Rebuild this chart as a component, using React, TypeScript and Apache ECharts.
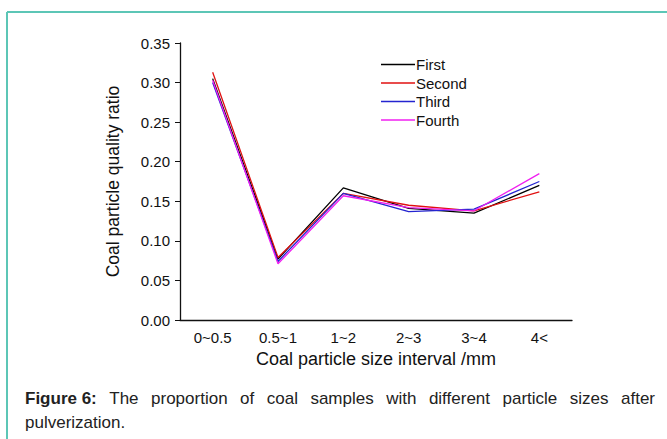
import React, { useEffect, useRef } from "react";
import * as echarts from "echarts";

const categories = ["0~0.5", "0.5~1", "1~2", "2~3", "3~4", "4<"];
const seriesNames = ["First", "Second", "Third", "Fourth"];
const first = [0.305, 0.077, 0.167, 0.141, 0.135, 0.170];
const second = [0.313, 0.079, 0.160, 0.145, 0.138, 0.162];
const third = [0.300, 0.074, 0.160, 0.137, 0.140, 0.175];
const fourth = [0.303, 0.071, 0.157, 0.142, 0.138, 0.185];
const seriesColors = ["#000000", "#e01010", "#2424d0", "#f020f0"];
const yTicks = [0, 0.05, 0.1, 0.15, 0.2, 0.25, 0.3, 0.35];

const captionBold = "Figure 6:";
const captionLine1 = "The proportion of coal samples with different particle sizes after";
const captionLine2 = "pulverization.";

export default function App() {
  const ref = useRef<HTMLDivElement>(null);
  useEffect(() => {
    if (!ref.current) return;
    const chart = echarts.init(ref.current, null, { renderer: "svg" });
    const data = [first, second, third, fourth];
    const font = "Liberation Sans, Arial, sans-serif";
    const capSize = 17;

    // justify caption line 1 between x=25 and x=655
    const ctx = document.createElement("canvas").getContext("2d")!;
    const words = [captionBold, ...captionLine1.split(" ")];
    const widths = words.map((w, i) => {
      ctx.font = (i === 0 ? "bold " : "") + capSize + "px Liberation Sans, Arial, sans-serif";
      return ctx.measureText(w).width;
    });
    const total = widths.reduce((a, b) => a + b, 0);
    const gap = (655 - 25 - total) / (words.length - 1);
    const wordGraphics: any[] = [];
    let x = 25;
    words.forEach((w, i) => {
      wordGraphics.push({
        type: "text",
        x,
        y: 398,
        style: {
          text: w,
          fontSize: capSize,
          fontWeight: i === 0 ? "bold" : "normal",
          fill: "#222",
          fontFamily: font,
          verticalAlign: "middle",
        },
      });
      x += widths[i] + gap;
    });

    chart.setOption({
      animation: false,
      backgroundColor: "#ffffff",
      textStyle: { fontFamily: font },
      grid: { left: 180, right: 95, top: 43, bottom: 119 },
      legend: {
        orient: "vertical",
        left: 381,
        top: 57,
        padding: 0,
        itemWidth: 34,
        itemHeight: 14,
        itemGap: 3.5,
        textStyle: { fontSize: 15, color: "#111", fontFamily: font, padding: [0, 0, 0, -4] },
        data: seriesNames.map((n) => ({ name: n, icon: "path://M0,0 L34,0 L34,1.6 L0,1.6 Z" })),
      },
      xAxis: {
        type: "category",
        data: categories,
        boundaryGap: true,
        name: "Coal particle size interval /mm",
        nameLocation: "middle",
        nameGap: 26,
        nameTextStyle: { fontSize: 18, color: "#111", fontFamily: font },
        axisLine: { lineStyle: { color: "#111", width: 1.3 } },
        axisTick: { inside: true, length: 4, lineStyle: { color: "#111" } },
        axisLabel: { fontSize: 15, color: "#111", margin: 10, fontFamily: font },
      },
      yAxis: {
        type: "value",
        min: 0,
        max: 0.35,
        interval: 0.05,
        name: "Coal particle quality ratio",
        nameLocation: "middle",
        nameGap: 58,
        nameTextStyle: { fontSize: 17.5, color: "#111", fontFamily: font },
        axisLine: { show: true, lineStyle: { color: "#111", width: 1.3 } },
        axisTick: { show: true, inside: false, length: 5, lineStyle: { color: "#111" } },
        axisLabel: {
          fontSize: 15,
          color: "#111",
          margin: 10,
          fontFamily: font,
          formatter: (v: number) => (yTicks.includes(Math.round(v * 100) / 100) ? v.toFixed(2) : ""),
        },
        splitLine: { show: false },
      },
      series: seriesNames.map((n, i) => ({
        name: n,
        type: "line",
        data: data[i],
        symbol: "none",
        lineStyle: { color: seriesColors[i], width: 1.3 },
        itemStyle: { color: seriesColors[i] },
      })),
      graphic: [
        { type: "line", shape: { x1: 7, y1: 12, x2: 667, y2: 12 }, style: { stroke: "#5cc6b6", lineWidth: 2 } },
        { type: "line", shape: { x1: 7, y1: 12, x2: 7, y2: 439 }, style: { stroke: "#5cc6b6", lineWidth: 2 } },
        ...wordGraphics,
        {
          type: "text",
          x: 25,
          y: 422,
          style: { text: captionLine2, fontSize: capSize, fill: "#222", fontFamily: font, verticalAlign: "middle" },
        },
      ],
    });
    return () => chart.dispose();
  }, []);
  return <div ref={ref} style={{ position: "absolute", left: 0, top: 0, width: 667, height: 439 }} />;
}
